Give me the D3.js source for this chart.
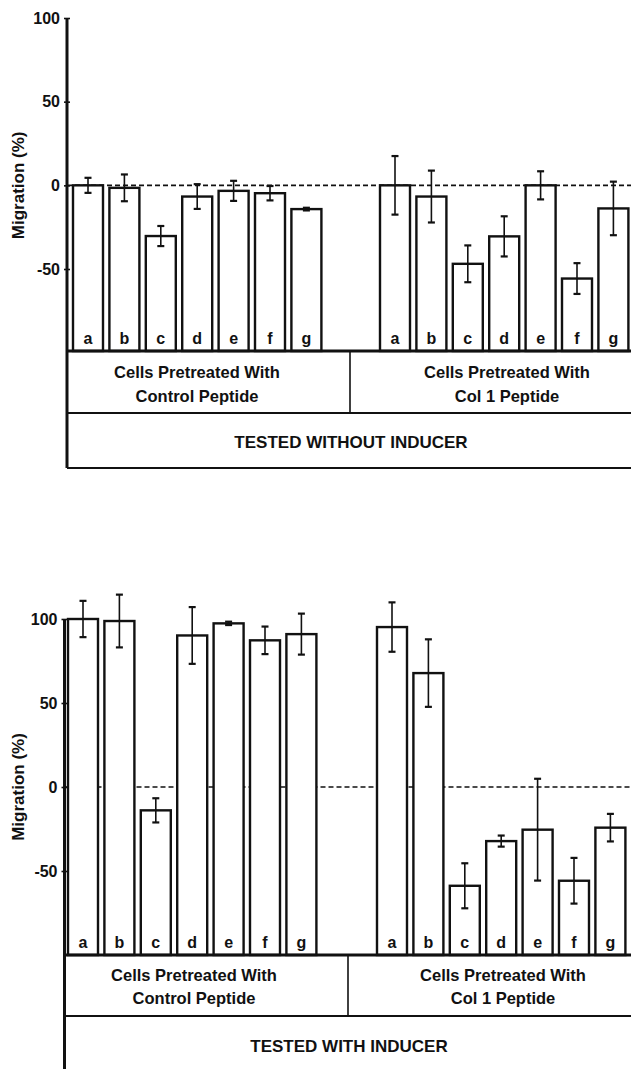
<!DOCTYPE html>
<html>
<head>
<meta charset="utf-8">
<script src="https://cdn.jsdelivr.net/npm/d3@7/dist/d3.min.js"></script>
<style>
  body { margin: 0; background: #fff; }
  text { font-family: "Liberation Sans", Arial, Helvetica, sans-serif; font-weight: bold; fill: #111; }
</style>
</head>
<body>
<div id="container"></div>
<script>
/* DATA */
const letters = ["a", "b", "c", "d", "e", "f", "g"];
const yTicks = [-50, 0, 50, 100];

// tested without inducer
const noInducerControl = [0, -1.5, -30.3, -6.7, -3.3, -4.7, -14.2];
const noInducerControlErr = [4.5, 8, 6, 7.4, 6, 4.3, 0.8];
const noInducerCol1 = [0, -6.7, -46.9, -30.5, 0, -55.7, -13.8];
const noInducerCol1Err = [17.5, 15.5, 11, 12, 8.4, 9.2, 16];

// tested with inducer
const inducerControl = [100, 98.8, -13.9, 90.2, 97.4, 87.3, 91];
const inducerControlErr = [10.8, 15.7, 7.2, 16.9, 1, 8.2, 12.2];
const inducerCol1 = [95.2, 67.8, -58.8, -32.2, -25.4, -55.8, -24.2];
const inducerCol1Err = [14.7, 20.1, 13.4, 3.3, 30.3, 13.6, 8.2];

const groupLabels = [["Cells Pretreated With", "Control Peptide"], ["Cells Pretreated With", "Col 1 Peptide"]];

/* CONSTANTS */
const width = 631, height = 1069;
const step = 36.4, gap = 6.4;

const svg = d3.select("#container")
  .append("svg")
  .attr("width", width)
  .attr("height", height)
  .style("background-color", "white");

function drawPanel(p) {
  const g = svg.append("g");
  const y = d3.scaleLinear().domain(p.domain).range([p.base, p.top]);

  // dashed zero line (behind bars)
  g.append("line")
    .attr("x1", p.axisX).attr("x2", width)
    .attr("y1", y(0)).attr("y2", y(0))
    .attr("stroke", "#111").attr("stroke-width", 1.6)
    .attr("stroke-dasharray", "5,3");

  p.groups.forEach((grp, gi) => {
    const x = d3.scaleBand()
      .domain(letters)
      .range([grp.start, grp.start + 7 * step - gap])
      .paddingInner(gap / step);
    const data = letters.map((l, i) => ({ l, v: grp.values[i], e: grp.errors[i] }));

    g.selectAll("rect.bar" + gi)
      .data(data)
      .join("rect")
      .attr("class", "bar" + gi)
      .attr("x", d => x(d.l))
      .attr("y", d => y(d.v))
      .attr("width", x.bandwidth())
      .attr("height", d => y(p.domain[0]) - y(d.v))
      .attr("fill", "white")
      .attr("stroke", "#111")
      .attr("stroke-width", 2.4);

    // error bars
    const eb = g.selectAll("g.err" + gi)
      .data(data)
      .join("g")
      .attr("class", "err" + gi)
      .attr("stroke", "#111")
      .attr("stroke-width", 1.6);
    eb.append("line")
      .attr("x1", d => x(d.l) + x.bandwidth() / 2)
      .attr("x2", d => x(d.l) + x.bandwidth() / 2)
      .attr("y1", d => y(d.v - d.e))
      .attr("y2", d => y(d.v + d.e));
    [1, -1].forEach(s => {
      eb.append("line")
        .attr("x1", d => x(d.l) + x.bandwidth() / 2 - 3.5)
        .attr("x2", d => x(d.l) + x.bandwidth() / 2 + 3.5)
        .attr("y1", d => y(d.v + s * d.e))
        .attr("y2", d => y(d.v + s * d.e))
        .attr("stroke-width", 2.2);
    });

    // letters inside bars
    g.selectAll("text.lt" + gi)
      .data(data)
      .join("text")
      .attr("class", "lt" + gi)
      .attr("x", d => x(d.l) + x.bandwidth() / 2)
      .attr("y", p.base - 7)
      .attr("text-anchor", "middle")
      .style("font-size", "16px")
      .text(d => d.l);

    // group label in box
    groupLabels[gi].forEach((t, li) => {
      g.append("text")
        .attr("x", grp.labelX)
        .attr("y", p.labelY[li])
        .attr("text-anchor", "middle")
        .style("font-size", "16.5px")
        .text(t);
    });
  });

  // box below bars
  const line = (x1, y1, x2, y2, w) => g.append("line")
    .attr("x1", x1).attr("y1", y1).attr("x2", x2).attr("y2", y2)
    .attr("stroke", "#111").attr("stroke-width", w);
  line(p.axisX, p.base, width, p.base, 2.8);
  line(p.axisX, p.boxMid, width, p.boxMid, 2.2);
  if (p.boxBottom < height) line(p.axisX, p.boxBottom, width, p.boxBottom, 2.2);
  line(p.divider, p.base, p.divider, p.boxMid, 1.6);
  line(p.axisX, p.top, p.axisX, Math.min(p.boxBottom, height), 3);

  g.append("text")
    .attr("x", p.testedX)
    .attr("y", p.testedY)
    .attr("text-anchor", "middle")
    .style("font-size", "17px")
    .text(p.tested);

  // y axis
  const axis = g.append("g")
    .attr("transform", `translate(${p.axisX},0)`)
    .call(d3.axisLeft(y).tickValues(yTicks).tickSize(3).tickPadding(4).tickFormat(d => String(d)));
  axis.select(".domain").remove();
  axis.selectAll(".tick line").attr("x2", -3).attr("x1", 3).attr("stroke", "#111").attr("stroke-width", 1.6);
  axis.selectAll(".tick text")
    .style("font-size", "16px")
    .style("font-family", "'Liberation Sans', Arial, sans-serif")
    .style("font-weight", "bold")
    .attr("fill", "#111");

  g.append("text")
    .attr("transform", `translate(${p.titleX},${y(0)}) rotate(-90)`)
    .attr("text-anchor", "middle")
    .style("font-size", "17px")
    .text("Migration (%)");
}

drawPanel({
  domain: [-99, 100], top: 18, base: 351,
  axisX: 67, boxMid: 413, boxBottom: 468, divider: 350,
  labelY: [378, 402], testedX: 351, testedY: 448, titleX: 24,
  tested: "TESTED WITHOUT INDUCER",
  groups: [
    { start: 73, values: noInducerControl, errors: noInducerControlErr, labelX: 197 },
    { start: 380, values: noInducerCol1, errors: noInducerCol1Err, labelX: 507 }
  ]
});

drawPanel({
  domain: [-100, 100], top: 619, base: 955,
  axisX: 64.5, boxMid: 1016, boxBottom: 1080, divider: 348,
  labelY: [981, 1004], testedX: 349, testedY: 1052, titleX: 24,
  tested: "TESTED WITH INDUCER",
  groups: [
    { start: 68, values: inducerControl, errors: inducerControlErr, labelX: 194 },
    { start: 377, values: inducerCol1, errors: inducerCol1Err, labelX: 503 }
  ]
});
</script>
</body>
</html>
